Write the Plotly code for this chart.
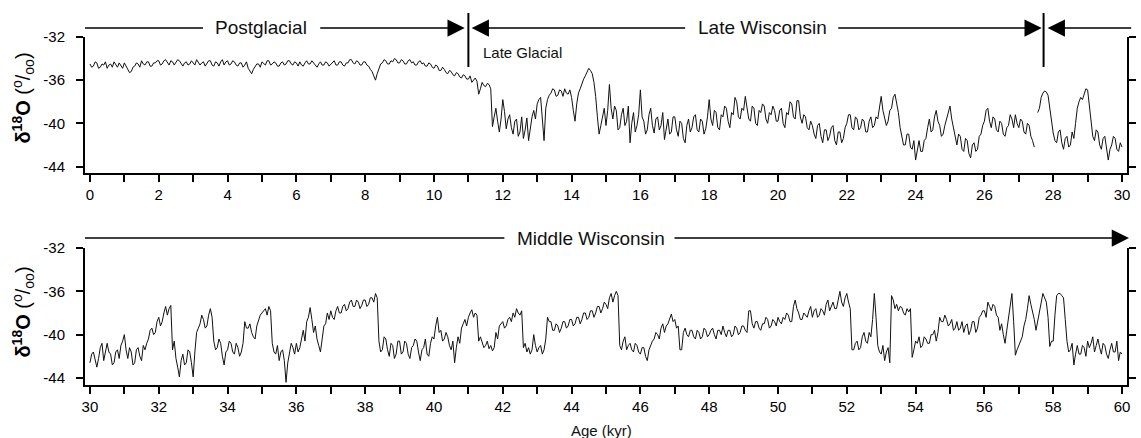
import numpy as np
import plotly.graph_objects as go

# ---------------- data (0.05 kyr steps) ----------------
d18o_top = [
    # 0 kyr
    -34.5, -34.8, -34.7, -34.3, -34.4, -34.9, -34.8, -34.5, -34.6, -34.3, -34.9, -34.6, -34.5, -34.8, -34.3, -34.6, -34.8, -34.4, -34.6, -34.9,
    -34.4, -34.7, -34.9, -35.3, -35.2, -34.8, -34.7, -34.4, -34.5, -34.8, -34.2, -34.5, -34.6, -34.3, -34.3, -34.7, -34.7, -34.4, -34.4, -34.2,
    -34.2, -34.6, -34.5, -34.2, -34.1, -34.4, -34.6, -34.2, -34.3, -34.6, -34.4, -34.1, -34.2, -34.5, -34.7, -34.4, -34.3, -34.6, -34.5, -34.2,
    -34.4, -34.6, -34.1, -34.3, -34.6, -34.4, -34.3, -34.7, -34.5, -34.2, -34.2, -34.6, -34.7, -34.3, -34.4, -34.7, -34.3, -34.1, -34.6, -34.3,
    -34.2, -34.6, -34.5, -34.2, -34.3, -34.6, -34.7, -34.4, -34.4, -34.8, -34.6, -34.3, -34.9, -35.2, -35.4, -35.0, -34.8, -34.5, -34.5, -34.8,
    # 5 kyr
    -34.3, -34.5, -34.6, -34.2, -34.2, -34.6, -34.5, -34.3, -34.4, -34.7, -34.7, -34.4, -34.3, -34.6, -34.5, -34.2, -34.2, -34.5, -34.6, -34.3,
    -34.4, -34.7, -34.3, -34.6, -34.7, -34.4, -34.2, -34.5, -34.5, -34.2, -34.4, -34.7, -34.8, -34.5, -34.3, -34.6, -34.6, -34.3, -34.4, -34.7,
    -34.5, -34.3, -34.2, -34.6, -34.6, -34.3, -34.3, -34.6, -34.7, -34.4, -34.4, -34.1, -34.1, -34.4, -34.5, -34.2, -34.3, -34.6, -34.6, -34.3,
    -34.3, -34.6, -34.7, -35.0, -35.2, -35.6, -36.0, -35.4, -34.9, -34.5, -34.4, -34.1, -34.2, -34.5, -34.5, -34.2, -34.3, -34.0, -34.1, -34.4,
    -34.4, -34.1, -34.2, -34.5, -34.5, -34.2, -34.1, -34.4, -34.3, -34.6, -34.6, -34.3, -34.2, -34.5, -34.4, -34.7, -34.7, -34.4, -34.5, -34.8,
    # 10 kyr
    -34.9, -34.6, -34.7, -35.1, -35.1, -34.8, -35.0, -35.3, -35.4, -35.1, -35.2, -35.5, -35.6, -35.3, -35.4, -35.7, -35.8, -35.5, -35.6, -35.9,
    -35.9, -35.6, -36.2, -36.0, -35.8, -36.1, -37.3, -36.8, -36.2, -36.5, -36.6, -36.3, -36.4, -36.8, -40.3, -39.4, -38.6, -39.8, -40.8, -39.6,
    -37.8, -38.9, -40.5, -39.6, -39.2, -40.4, -41.0, -39.8, -39.6, -41.2, -40.8, -39.4, -41.4, -40.6, -39.5, -41.6, -40.2, -39.4, -38.8, -39.6,
    -38.2, -37.8, -37.6, -39.4, -41.6, -38.6, -37.8, -37.4, -37.2, -36.8, -36.9, -37.5, -37.4, -36.9, -37.0, -37.5, -36.8, -37.2, -37.3, -36.9,
    -37.6, -38.8, -39.8, -38.2, -37.2, -36.8, -36.3, -35.9, -35.6, -35.2, -34.9, -35.1, -35.4, -36.2, -37.5, -39.4, -41.0, -40.2, -39.2, -38.6,
    # 15 kyr
    -40.2, -38.8, -36.4, -38.6, -39.6, -38.4, -38.8, -40.6, -40.4, -39.2, -38.6, -40.2, -39.8, -38.4, -41.8, -40.0, -39.0, -40.8, -40.2, -39.2,
    -36.9, -39.4, -39.8, -41.0, -40.6, -39.2, -38.6, -40.2, -40.9, -39.6, -39.4, -40.6, -40.2, -39.0, -41.5, -40.4, -39.6, -41.0, -40.8, -39.4,
    -39.4, -40.6, -41.2, -39.8, -40.0, -41.4, -41.8, -40.2, -39.6, -40.8, -40.4, -39.4, -39.2, -40.6, -40.8, -39.6, -39.8, -41.0, -40.5, -39.4,
    -37.8, -39.6, -40.2, -38.8, -39.0, -40.4, -40.6, -39.2, -39.4, -38.4, -38.6, -39.8, -40.4, -39.0, -39.2, -37.6, -38.0, -39.4, -39.6, -38.6,
    -38.8, -37.5, -38.4, -39.6, -39.8, -38.4, -38.6, -40.0, -40.2, -38.8, -39.0, -38.2, -38.4, -39.6, -40.0, -39.0, -39.2, -38.4, -38.8, -39.8,
    # 20 kyr
    -39.8, -38.8, -38.6, -40.0, -40.4, -39.0, -39.2, -38.0, -38.2, -39.4, -39.6, -37.9, -37.9, -39.4, -40.0, -39.2, -39.4, -40.4, -40.6, -39.8,
    -40.2, -41.0, -41.4, -40.2, -40.0, -41.2, -41.8, -40.6, -40.6, -41.6, -41.2, -40.4, -40.2, -41.6, -42.0, -40.8, -40.8, -41.8, -41.4, -40.4,
    -40.0, -39.2, -39.2, -40.4, -40.6, -39.4, -39.6, -40.6, -40.4, -39.6, -39.8, -40.8, -40.8, -39.8, -39.4, -40.4, -40.2, -39.4, -39.6, -38.6,
    -37.5, -38.8, -39.4, -40.2, -39.8, -38.8, -38.6, -37.6, -37.3, -38.2, -39.0, -40.4, -41.2, -42.0, -42.0, -41.0, -41.0, -42.2, -42.4, -41.6,
    -43.4, -42.4, -41.6, -42.6, -42.6, -41.6, -41.4, -40.4, -39.6, -40.8, -40.6, -39.4, -38.8, -39.8, -40.2, -41.2, -41.0, -40.2, -39.6, -39.0,
    # 25 kyr
    -38.4, -39.6, -40.4, -41.4, -42.0, -41.0, -41.2, -42.4, -42.6, -41.4, -41.6, -42.8, -43.2, -42.0, -41.8, -42.6, -42.4, -41.2, -41.0, -40.2,
    -39.8, -38.8, -38.6, -39.8, -40.4, -39.4, -39.6, -40.6, -40.8, -39.8, -40.0, -41.0, -41.2, -40.4, -40.2, -39.2, -39.6, -40.4, -39.2, -40.0,
    -40.4, -39.6, -39.8, -40.8, -41.0, -40.0, -40.2, -41.2, -41.6, -42.2, None, -39.0, -38.6, -37.6, -37.2, -37.0, -37.1, -37.4, -38.6, -40.2,
    -40.9, -41.6, -41.8, -40.8, -40.6, -41.8, -42.4, -41.4, -41.2, -42.2, -42.0, -40.8, -41.4, -40.0, -38.6, -38.0, -37.6, -37.8, -37.2, -36.8,
    -36.9, -38.2, -40.0, -41.2, -41.6, -40.6, -40.8, -42.0, -42.4, -41.4, -41.2, -42.6, -43.4, -42.4, -42.0, -41.2, -41.4, -42.4, -42.6, -41.8,
    # 30 kyr
    -42.2,
]

d18o_bottom = [
    # 30 kyr
    -42.6, -41.8, -41.6, -42.4, -43.0, -42.2, -41.2, -40.8, -42.4, -41.6, -40.8, -41.6, -41.8, -42.8, -42.6, -41.6, -41.4, -42.2, -41.0, -40.6,
    -40.0, -41.4, -42.2, -41.2, -41.6, -42.8, -42.6, -41.4, -41.2, -42.0, -42.4, -41.0, -41.4, -40.8, -40.4, -39.6, -39.4, -40.0, -39.8, -38.8,
    -38.4, -39.2, -38.8, -38.0, -37.4, -38.2, -37.6, -37.3, -41.4, -40.6, -42.2, -43.0, -43.9, -42.4, -41.8, -42.8, -42.6, -41.4, -41.6, -42.6,
    -43.9, -41.6, -39.8, -39.4, -39.0, -38.2, -38.6, -39.4, -39.2, -38.2, -37.6, -38.4, -40.6, -41.4, -41.2, -40.4, -40.8, -42.0, -42.8, -41.6,
    -41.4, -40.6, -40.8, -41.6, -41.8, -40.8, -41.2, -42.0, -41.6, -40.8, -38.8, -39.4, -39.4, -39.0, -39.8, -40.2, -40.4, -39.2, -38.6, -38.2,
    # 35 kyr
    -38.0, -37.8, -37.6, -38.2, -37.4, -37.8, -40.8, -41.6, -41.8, -41.0, -42.4, -41.6, -41.4, -42.4, -44.4, -42.6, -41.6, -40.8, -41.2, -41.8,
    -40.8, -41.6, -41.2, -40.4, -39.6, -40.6, -38.8, -38.4, -37.5, -38.6, -39.8, -39.2, -40.4, -41.0, -41.6, -40.4, -39.2, -39.0, -38.0, -38.6,
    -37.8, -38.4, -38.6, -37.8, -37.4, -38.0, -38.0, -37.4, -37.2, -37.8, -37.6, -37.0, -36.8, -37.4, -37.4, -36.8, -37.0, -37.6, -37.3, -36.8,
    -36.8, -37.4, -37.2, -36.6, -36.6, -37.0, -36.2, -36.6, -40.6, -41.6, -41.4, -40.2, -40.4, -41.4, -42.0, -40.8, -41.0, -42.2, -41.8, -40.6,
    -40.6, -41.8, -41.6, -40.6, -40.8, -41.8, -42.2, -41.2, -41.0, -40.4, -40.6, -41.6, -42.4, -41.4, -41.2, -40.4, -41.8, -42.0, -40.8, -40.2,
    # 40 kyr
    -40.4, -39.2, -38.4, -39.8, -39.6, -40.6, -40.4, -39.8, -40.2, -41.0, -41.4, -40.6, -42.6, -41.2, -40.2, -40.8, -39.4, -39.0, -38.6, -39.2,
    -38.4, -38.0, -37.7, -38.4, -38.0, -38.2, -40.6, -40.2, -40.8, -41.2, -41.0, -40.6, -41.3, -41.0, -41.5, -41.2, -39.8, -40.4, -39.2, -39.0,
    -38.8, -39.4, -39.2, -38.6, -38.4, -38.8, -38.0, -38.4, -37.6, -38.0, -38.2, -37.8, -41.2, -40.8, -41.6, -41.2, -41.8, -41.4, -40.0, -41.0,
    -41.6, -41.2, -41.0, -41.8, -41.4, -40.4, -38.4, -38.8, -38.8, -39.6, -39.6, -39.0, -39.2, -39.8, -39.4, -38.8, -38.8, -39.4, -39.2, -38.6,
    -38.6, -39.2, -39.0, -38.4, -38.4, -39.0, -38.6, -38.0, -38.0, -38.6, -38.4, -37.8, -37.8, -38.4, -38.0, -37.4, -37.4, -38.0, -37.6, -37.0,
    # 45 kyr
    -37.2, -37.6, -36.6, -36.2, -37.0, -36.4, -36.0, -36.4, -41.0, -41.4, -40.6, -40.2, -41.4, -41.0, -40.8, -41.4, -41.6, -40.8, -41.0, -41.6,
    -41.8, -41.2, -41.2, -42.0, -42.4, -41.4, -41.0, -40.6, -40.4, -39.8, -40.0, -40.4, -39.4, -39.0, -39.8, -39.2, -39.0, -38.6, -38.1, -38.8,
    -38.6, -39.4, -39.2, -41.4, -41.4, -39.8, -39.4, -40.0, -40.2, -39.6, -39.6, -40.2, -40.4, -39.6, -39.8, -40.4, -40.2, -39.4, -39.6, -40.2,
    -40.0, -39.6, -39.4, -40.0, -40.4, -39.6, -39.6, -40.0, -39.2, -39.8, -40.2, -39.6, -39.6, -40.2, -40.0, -39.2, -39.4, -40.0, -39.8, -39.2,
    -39.2, -39.6, -39.8, -37.8, -37.8, -39.0, -39.4, -38.8, -38.8, -39.4, -39.6, -39.0, -39.0, -38.4, -38.6, -39.4, -39.2, -38.6, -38.8, -39.2,
    # 50 kyr
    -38.4, -38.8, -39.0, -38.4, -38.6, -38.0, -38.2, -38.8, -38.8, -37.4, -36.8, -37.6, -38.0, -38.6, -38.6, -38.0, -38.2, -38.4, -37.8, -37.4,
    -38.4, -37.8, -37.6, -38.4, -38.2, -37.6, -37.8, -38.2, -37.2, -36.8, -37.8, -37.4, -37.0, -37.6, -37.6, -36.8, -36.0, -37.0, -37.4, -36.6,
    -36.2, -37.0, -37.6, -41.4, -41.4, -40.8, -40.6, -41.4, -41.2, -40.2, -39.8, -40.6, -40.8, -39.8, -40.2, -38.6, -36.2, -38.4, -41.0, -41.6,
    -41.8, -41.0, -42.4, -41.6, -41.2, -42.6, -36.4, -36.8, -37.6, -37.2, -37.8, -37.4, -37.5, -38.0, -38.2, -37.6, -37.9, -37.6, -42.1, -41.4,
    -40.6, -40.8, -40.2, -41.2, -41.0, -40.2, -40.4, -40.8, -40.8, -40.0, -40.0, -39.6, -40.6, -39.8, -38.4, -38.8, -38.8, -38.2, -38.6, -39.2,
    # 55 kyr
    -39.0, -38.6, -39.6, -39.4, -38.8, -39.6, -39.4, -38.8, -39.8, -39.2, -39.0, -40.0, -39.6, -38.8, -38.8, -39.8, -39.4, -38.4, -38.2, -37.8,
    -37.8, -38.4, -37.0, -37.4, -37.8, -37.2, -37.4, -38.2, -38.4, -39.6, -39.0, -40.0, -40.8, -39.6, -38.4, -37.0, -36.2, -38.8, -41.9, -41.4,
    -41.0, -40.6, -40.2, -39.2, -38.6, -37.6, -36.4, -37.2, -37.8, -38.6, -39.6, -38.8, -38.0, -37.2, -36.2, -36.6, -37.0, -38.4, -41.1, -40.6,
    -40.6, -38.2, -36.4, -36.2, -36.2, -36.4, -36.6, -38.6, -40.6, -41.6, -41.4, -40.8, -42.8, -41.8, -41.0, -41.8, -41.8, -41.0, -41.2, -42.0,
    -40.6, -41.2, -40.8, -40.2, -41.6, -41.0, -40.4, -41.2, -41.8, -40.8, -41.0, -41.8, -42.2, -41.4, -40.8, -41.6, -41.6, -40.6, -42.4, -41.6,
    # 60 kyr
    -41.8,
]

assert len(d18o_top) == 601, len(d18o_top)
assert len(d18o_bottom) == 601, len(d18o_bottom)
age_top = np.round(0.0 + 0.05 * np.arange(len(d18o_top)), 2)
age_bottom = np.round(30.0 + 0.05 * np.arange(len(d18o_bottom)), 2)

xticks_top = list(range(0, 31))
xticks_bottom = list(range(30, 61))
yticks = [-44, -40, -36, -32]
ytick_labels = ["-44", "-40", "-36", "-32"]
boundaries = [11.0, 27.72]          # Postglacial / Late Wisconsin / Middle Wisconsin
y_label = "<b>δ<sup>18</sup>O</b> (<sup>o</sup>/<sub>oo</sub>)"

# ---------------- layout helpers (pixel -> paper) ----------------
W, H = 1141, 438
ML, MR, MT, MB = 85, 5, 37, 53
PW, PH = W - ML - MR, H - MT - MB


def PX(px):
    return (px - ML) / PW


def PY(py):
    return (H - MB - py) / PH


FONT = "Liberation Sans, Arial, sans-serif"
INK = "#111111"

fig = go.Figure()
fig.add_trace(go.Scatter(x=age_top, y=d18o_top, mode="lines",
                         line=dict(color=INK, width=1), xaxis="x", yaxis="y",
                         showlegend=False, hoverinfo="skip"))
fig.add_trace(go.Scatter(x=age_bottom, y=d18o_bottom, mode="lines",
                         line=dict(color=INK, width=1), xaxis="x2", yaxis="y2",
                         showlegend=False, hoverinfo="skip"))

axis_common = dict(showgrid=False, zeroline=False, showline=True,
                   linecolor="#000", linewidth=2, ticks="outside",
                   ticklen=7, tickwidth=2, tickcolor="#000",
                   tickfont=dict(family=FONT, size=15, color="#000"))

top_dom = [PY(173), 1.0]
bot_dom = [0.0, PY(248)]

fig.update_layout(
    width=W, height=H,
    margin=dict(l=ML, r=MR, t=MT, b=MB),
    paper_bgcolor="white", plot_bgcolor="white",
    xaxis=dict(domain=[0, 1], anchor="y", range=[-0.144, 30.145],
               tickmode="array", tickvals=xticks_top,
               ticktext=[str(v) if v % 2 == 0 else "" for v in xticks_top],
               **axis_common),
    yaxis=dict(domain=top_dom, anchor="x", range=[-44.6, -32.0],
               tickmode="array", tickvals=yticks, ticktext=ytick_labels,
               mirror="ticks", ticklabelstandoff=8, **axis_common),
    xaxis2=dict(domain=[0, 1], anchor="y2", range=[29.856, 60.145],
                tickmode="array", tickvals=xticks_bottom,
                ticktext=[str(v) if v % 2 == 0 else "" for v in xticks_bottom],
                **axis_common),
    yaxis2=dict(domain=bot_dom, anchor="x2", range=[-44.65, -32.0],
                tickmode="array", tickvals=yticks, ticktext=ytick_labels,
                mirror="ticks", ticklabelstandoff=8, **axis_common),
)

shapes = []
ann = []
LW = 1.6


def label(text, px, py, size=19, xanchor="center", angle=0, color="#111"):
    return dict(text=text, x=PX(px), y=PY(py), xref="paper", yref="paper",
                showarrow=False, xanchor=xanchor, yanchor="middle",
                textangle=angle, font=dict(family=FONT, size=size, color=color))


def arrow(tip_px, tail_px, py):
    return dict(text="", x=PX(tip_px), y=PY(py), xref="paper", yref="paper",
                showarrow=True, arrowhead=2, arrowsize=2.3, arrowwidth=1.5,
                arrowcolor="#000", ax=tail_px - tip_px, ay=0, standoff=0)


# ---- top-panel period bar ----
shapes.append(dict(type="line", xref="paper", yref="paper",
                   x0=PX(85), x1=PX(204), y0=PY(28), y1=PY(28),
                   line=dict(color="#000", width=LW)))
for b in boundaries:
    shapes.append(dict(type="line", xref="x", yref="paper",
                       x0=b, x1=b, y0=PY(13), y1=PY(67),
                       line=dict(color="#000", width=2)))

ann.append(label("Postglacial", 263, 28))
ann.append(label("Late Wisconsin", 768, 28))
ann.append(label("Late Glacial", 484, 52, size=15, xanchor="left"))
ann.append(arrow(468, 322, 28))
ann.append(arrow(475, 690, 28))
ann.append(arrow(1050, 845, 28))
ann.append(arrow(1056, 1141, 28))

# ---- bottom-panel period bar ----
shapes.append(dict(type="line", xref="paper", yref="paper",
                   x0=PX(85), x1=PX(508), y0=PY(238), y1=PY(238),
                   line=dict(color="#000", width=LW)))
ann.append(label("Middle Wisconsin", 595, 238))
ann.append(arrow(1138, 682, 238))

# ---- axis titles ----
for yc in (98, 312):
    ann.append(label(y_label, 22, yc, size=20, angle=-90, color="#000"))
ann.append(label("Age (kyr)", 606, 430, size=15))

fig.update_layout(shapes=shapes, annotations=ann)
fig.write_html("out.html",
               config={"displayModeBar": False},
               post_script="document.body.style.margin='0';"
                           "document.body.style.overflow='hidden';")
